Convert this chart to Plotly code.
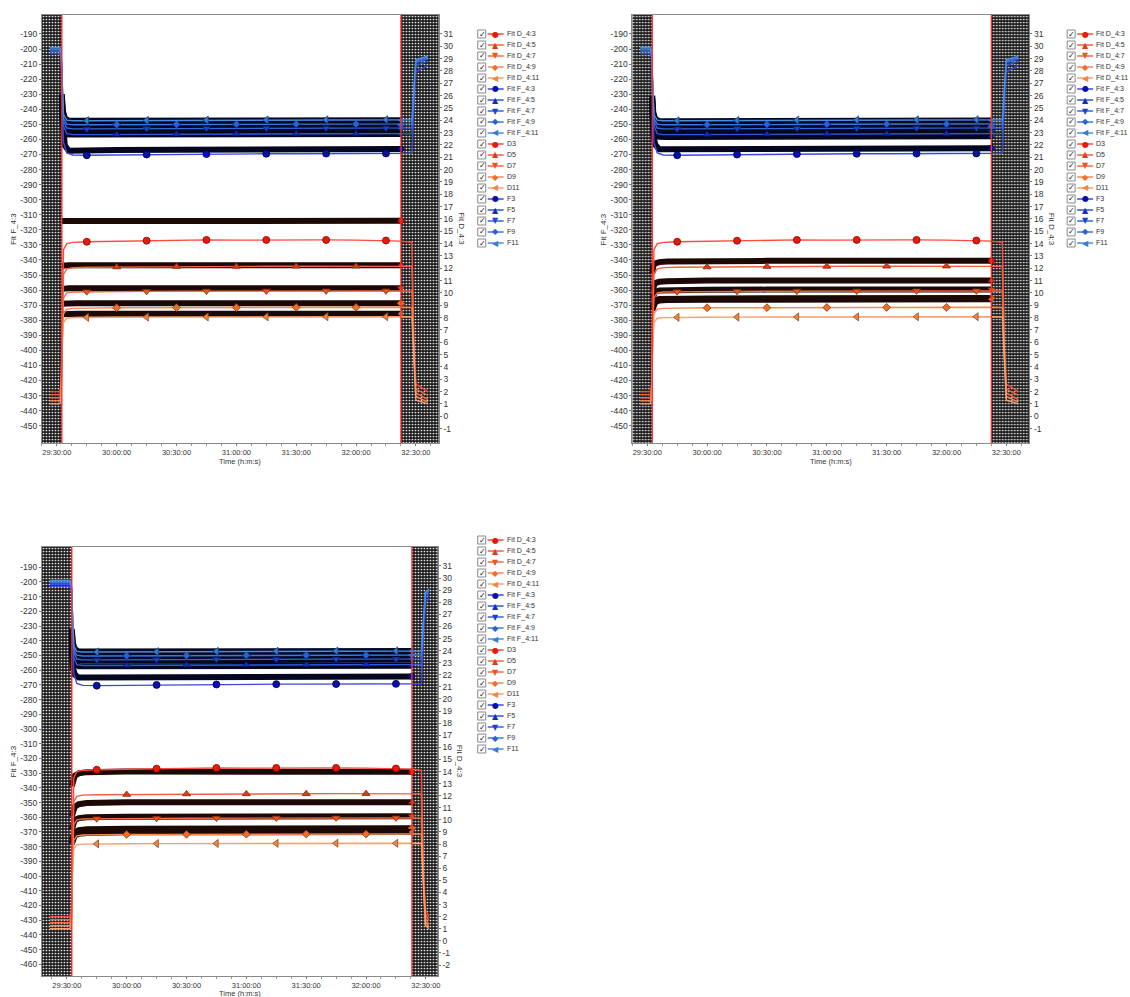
import plotly.graph_objects as go

W, H = 1130, 997


def tmin(s):
    h, m, sec = (int(v) for v in s.split(":"))
    return h * 60 + m + sec / 60.0


# ---------------- time knots (h:m:s) ----------------
FIT_PLATEAU = ["29:45:00", "30:00:00", "30:15:00", "30:30:00", "30:45:00", "31:00:00",
               "31:15:00", "31:30:00", "31:45:00", "32:00:00", "32:15:00"]
FIT_TIMES_A = (["29:26:30", "29:31:30", "29:32:10", "29:32:40", "29:33:20", "29:35:00", "29:38:00"]
               + FIT_PLATEAU + ["32:22:30", "32:28:00", "32:29:00", "32:30:00", "32:36:00"])
FIT_TIMES_B = (["29:21:30", "29:31:30", "29:32:20", "29:32:50", "29:33:30", "29:35:00", "29:38:00"]
               + FIT_PLATEAU + ["32:23:00", "32:27:45", "32:28:45", "32:29:45", "32:31:30"])
DATA_TIMES_A = ["29:32:30", "29:33:00", "29:34:00", "29:36:00", "29:40:00", "30:00:00", "30:30:00",
                "31:00:00", "31:30:00", "32:00:00", "32:22:30"]
DATA_TIMES_B = ["29:32:30", "29:33:00", "29:34:00", "29:36:00", "29:40:00", "30:00:00", "30:30:00",
                "31:00:00", "31:30:00", "32:00:00", "32:23:00"]
VALID_WINDOW_A = ["29:32:30", "32:22:30"]
VALID_WINDOW_B = ["29:32:30", "32:23:00"]
X_TICK_LABELS = ["29:30:00", "30:00:00", "30:30:00", "31:00:00", "31:30:00", "32:00:00", "32:30:00"]

# ---------------- fitted curves (Fit D on right axis, Fit F on left axis) ----------------
fit_d_4_3 = [2.0, 2.0, 2.6, 9.0, 13.5, 14.0, 14.1, 14.15, 14.2, 14.24, 14.3, 14.3, 14.28, 14.3, 14.32, 14.3, 14.28, 14.25, 14.2, 14.1, 6.0, 2.6, 2.0]
fit_d_4_5 = [1.75, 1.75, 2.2, 8.0, 11.5, 11.95, 12.05, 12.08, 12.1, 12.12, 12.14, 12.15, 12.15, 12.16, 12.16, 12.17, 12.17, 12.18, 12.18, 12.15, 5.5, 2.2, 1.7]
fit_d_4_7 = [1.5, 1.5, 1.9, 7.0, 9.6, 10.0, 10.08, 10.1, 10.12, 10.13, 10.14, 10.15, 10.15, 10.16, 10.16, 10.17, 10.17, 10.17, 10.17, 10.15, 5.0, 1.9, 1.35]
fit_d_4_9 = [1.25, 1.25, 1.6, 6.0, 8.3, 8.68, 8.75, 8.78, 8.8, 8.8, 8.81, 8.82, 8.82, 8.82, 8.83, 8.83, 8.83, 8.84, 8.84, 8.82, 4.6, 1.6, 1.15]
fit_d_4_11 = [1.0, 1.0, 1.4, 5.5, 7.6, 7.95, 8.0, 8.02, 8.03, 8.04, 8.05, 8.05, 8.06, 8.06, 8.06, 8.07, 8.07, 8.07, 8.07, 8.05, 4.2, 1.3, 1.0]

fit_f_4_3 = [-203.0, -203.0, -206.0, -238.0, -262.0, -269.0, -270.3, -270.5, -270.3, -270.0, -269.8, -269.7, -269.6, -269.5, -269.5, -269.4, -269.4, -269.3, -269.3, -269.2, -238.0, -215.0, -211.0]
fit_f_4_5 = [-201.5, -201.5, -205.0, -232.0, -251.0, -256.2, -256.8, -256.8, -256.7, -256.6, -256.5, -256.5, -256.4, -256.4, -256.3, -256.3, -256.2, -256.2, -256.2, -256.1, -232.0, -211.0, -208.0]
fit_f_4_7 = [-200.5, -200.5, -204.0, -230.0, -248.0, -252.4, -253.0, -253.0, -252.9, -252.8, -252.7, -252.6, -252.6, -252.5, -252.5, -252.4, -252.4, -252.4, -252.4, -252.3, -230.0, -209.0, -206.5]
fit_f_4_9 = [-200.0, -200.0, -203.5, -228.0, -246.0, -249.8, -250.3, -250.3, -250.2, -250.1, -250.0, -250.0, -249.9, -249.9, -249.8, -249.8, -249.8, -249.7, -249.7, -249.7, -228.0, -208.0, -205.5]
fit_f_4_11 = [-199.0, -199.0, -203.0, -226.0, -243.5, -247.2, -247.6, -247.6, -247.5, -247.4, -247.3, -247.2, -247.1, -247.1, -247.0, -247.0, -246.9, -246.9, -246.9, -246.9, -226.0, -207.0, -204.8]

# ---------------- measured data, panel 1 ----------------
p1_d3 = [15.83, 15.83, 15.84, 15.84, 15.84, 15.85, 15.85, 15.85, 15.85, 15.85, 15.85]
p1_d5 = [12.2, 12.22, 12.23, 12.24, 12.24, 12.25, 12.25, 12.25, 12.25, 12.25, 12.25]
p1_d7 = [10.33, 10.35, 10.36, 10.37, 10.37, 10.38, 10.38, 10.38, 10.38, 10.38, 10.38]
p1_d9 = [9.12, 9.14, 9.15, 9.15, 9.16, 9.16, 9.16, 9.16, 9.16, 9.16, 9.16]
p1_d11 = [8.27, 8.29, 8.3, 8.3, 8.31, 8.31, 8.31, 8.31, 8.31, 8.31, 8.31]
p1_f3 = [-240.0, -255.0, -264.0, -267.5, -267.3, -267.0, -266.8, -266.6, -266.5, -266.4, -266.3]
p1_f5 = [-236.0, -250.0, -255.0, -256.8, -256.8, -256.7, -256.6, -256.5, -256.5, -256.4, -256.4]
p1_f7 = [-234.0, -247.0, -252.0, -253.6, -253.6, -253.5, -253.5, -253.4, -253.4, -253.3, -253.3]
p1_f9 = [-232.0, -244.0, -249.0, -250.6, -250.6, -250.5, -250.5, -250.4, -250.4, -250.3, -250.3]
p1_f11 = [-230.0, -241.0, -246.0, -247.6, -247.6, -247.5, -247.5, -247.4, -247.4, -247.3, -247.3]

# ---------------- measured data, panel 2 ----------------
p2_d3 = [11.6, 12.2, 12.4, 12.5, 12.55, 12.6, 12.6, 12.6, 12.6, 12.6, 12.6]
p2_d5 = [10.2, 10.6, 10.8, 10.9, 10.95, 11.0, 11.0, 11.0, 11.0, 11.0, 11.0]
p2_d7 = [9.5, 9.9, 10.1, 10.2, 10.22, 10.25, 10.27, 10.27, 10.28, 10.28, 10.28]
p2_d9 = [8.8, 9.2, 9.4, 9.5, 9.52, 9.55, 9.56, 9.57, 9.57, 9.58, 9.58]
p2_d11 = [8.6, 9.0, 9.25, 9.38, 9.42, 9.45, 9.46, 9.47, 9.47, 9.48, 9.48]
p2_f3 = [-240.0, -256.0, -263.5, -266.5, -266.5, -266.3, -266.1, -266.0, -265.9, -265.8, -265.8]
p2_f5 = [-237.0, -251.0, -256.5, -258.3, -258.4, -258.3, -258.2, -258.1, -258.0, -258.0, -257.9]
p2_f7 = [-235.0, -248.0, -253.5, -255.3, -255.4, -255.3, -255.2, -255.1, -255.0, -255.0, -254.9]
p2_f9 = [-233.0, -245.0, -250.0, -251.8, -251.9, -251.8, -251.7, -251.6, -251.5, -251.5, -251.4]
p2_f11 = [-231.0, -242.0, -246.3, -247.8, -247.9, -247.8, -247.7, -247.6, -247.5, -247.5, -247.4]

# ---------------- measured data, panel 3 ----------------
p3_d3 = [12.8, 13.3, 13.65, 13.85, 13.95, 14.0, 14.0, 14.0, 14.0, 14.0, 13.98]
p3_d5 = [10.3, 10.8, 11.1, 11.3, 11.4, 11.45, 11.45, 11.46, 11.46, 11.46, 11.46]
p3_d7 = [9.2, 9.7, 10.0, 10.15, 10.22, 10.27, 10.28, 10.29, 10.29, 10.3, 10.3]
p3_d9 = [8.3, 8.7, 9.0, 9.15, 9.22, 9.27, 9.28, 9.29, 9.29, 9.3, 9.3]
p3_d11 = [8.0, 8.4, 8.7, 8.85, 8.92, 8.97, 8.98, 8.99, 9.0, 9.0, 9.0]
p3_f3 = [-245.0, -258.0, -263.0, -265.0, -265.0, -264.8, -264.6, -264.5, -264.4, -264.3, -264.2]
p3_f5 = [-238.0, -250.0, -255.5, -257.3, -257.3, -257.2, -257.1, -257.0, -257.0, -256.9, -256.9]
p3_f7 = [-236.0, -247.0, -251.5, -253.3, -253.3, -253.2, -253.1, -253.0, -253.0, -252.9, -252.9]
p3_f9 = [-234.0, -244.0, -248.2, -250.0, -250.0, -249.9, -249.8, -249.7, -249.7, -249.6, -249.6]
p3_f11 = [-232.0, -241.5, -245.6, -247.3, -247.3, -247.2, -247.1, -247.0, -247.0, -246.9, -246.9]

LEGEND_NAMES = ["Fit D_4:3", "Fit D_4:5", "Fit D_4:7", "Fit D_4:9", "Fit D_4:11",
                "Fit F_4:3", "Fit F_4:5", "Fit F_4:7", "Fit F_4:9", "Fit F_4:11",
                "D3", "D5", "D7", "D9", "D11", "F3", "F5", "F7", "F9", "F11"]

# ---------------- styles ----------------
SYMBOLS = ["circle", "triangle-up", "triangle-down", "diamond", "triangle-left"]
GLYPHS = ["●", "▲", "▼", "◆", "◀"]
MSIZE = [7, 7, 7, 6, 7]
D_LINE = ["#ff4a3a", "#f2603f", "#f36a45", "#f58a55", "#f7a070"]
D_MARK = ["#e61a0a", "#d8401c", "#ea5522", "#ee6e2c", "#f08646"]
D_EDGE = ["#900000", "#8a2000", "#902a00", "#903800", "#904a20"]
F_LINE = ["#3a48e0", "#2f58dc", "#3068de", "#3a7ade", "#4a8ede"]
F_MARK = ["#0a10a8", "#1a2cb4", "#1f42c6", "#2a62d0", "#3a7ccc"]
F_EDGE = ["#000050", "#001060", "#002070", "#003080", "#10408a"]
BAND_D = "#1c0804"
BAND_F = "#040720"
FONT = "Liberation Sans"
TXT = "#333333"

FITS_D = [fit_d_4_3, fit_d_4_5, fit_d_4_7, fit_d_4_9, fit_d_4_11]
FITS_F = [fit_f_4_3, fit_f_4_5, fit_f_4_7, fit_f_4_9, fit_f_4_11]

PANELS = [
    dict(fit_t=FIT_TIMES_A, dat_t=DATA_TIMES_A, window=VALID_WINDOW_A,
         data_d=[p1_d3, p1_d5, p1_d7, p1_d9, p1_d11], data_f=[p1_f3, p1_f5, p1_f7, p1_f9, p1_f11],
         box=(42, 15, 440, 443), xr=(1762.5, 1961.5), yl=(-461.5, -177.4), yr=(-2.17, 32.54),
         lticks=list(range(-450, -189, 10)), rticks=list(range(-1, 32)), legend=(483, 34), tdy=18.5),
    dict(fit_t=FIT_TIMES_A, dat_t=DATA_TIMES_A, window=VALID_WINDOW_A,
         data_d=[p2_d3, p2_d5, p2_d7, p2_d9, p2_d11], data_f=[p2_f3, p2_f5, p2_f7, p2_f9, p2_f11],
         box=(634, 15, 1032, 443), xr=(1762.5, 1961.5), yl=(-461.5, -177.4), yr=(-2.17, 32.54),
         lticks=list(range(-450, -189, 10)), rticks=list(range(-1, 32)), legend=(1074, 34), tdy=18.5),
    dict(fit_t=FIT_TIMES_B, dat_t=DATA_TIMES_B, window=VALID_WINDOW_B,
         data_d=[p3_d3, p3_d5, p3_d7, p3_d9, p3_d11], data_f=[p3_f3, p3_f5, p3_f7, p3_f9, p3_f11],
         box=(42, 547, 439, 976), xr=(1757.5, 1956.0), yl=(-468.0, -176.2), yr=(-2.91, 32.57),
         lticks=list(range(-460, -189, 10)), rticks=list(range(-2, 32)), legend=(483, 540), tdy=17.5),
]


def PX(x):
    return x / W


def PY(y):
    return 1 - y / H


def label(text, x, y, size=8, color=TXT, family=FONT, xanchor="center", angle=0):
    return dict(text=text, x=PX(x), y=PY(y), xref="paper", yref="paper", showarrow=False,
                xanchor=xanchor, yanchor="middle", textangle=angle,
                font=dict(size=size, color=color, family=family))


fig = go.Figure()
layout = dict(width=W, height=H, margin=dict(l=0, r=0, t=0, b=0), showlegend=False,
              paper_bgcolor="white", plot_bgcolor="white",
              font=dict(family=FONT, size=8, color=TXT))
shapes, annotations = [], []
PLATEAU_START = 7

for p, P in enumerate(PANELS):
    xn = p + 1
    yl_n, yr_n = 2 * p + 1, 2 * p + 2
    xref = "x" if xn == 1 else f"x{xn}"
    ylref = "y" if yl_n == 1 else f"y{yl_n}"
    yrref = f"y{yr_n}"
    x0, y0, x1, y1 = P["box"]
    ft = [tmin(s) for s in P["fit_t"]]
    dt = [tmin(s) for s in P["dat_t"]]
    w0, w1 = tmin(P["window"][0]), tmin(P["window"][1])

    # hatched excluded periods
    for a, b in ((P["xr"][0], w0), (w1, P["xr"][1])):
        lo, hi = P["yl"]
        fig.add_trace(go.Scatter(
            x=[a, b, b, a, a], y=[lo, lo, hi, hi, lo], xaxis=xref, yaxis=ylref,
            mode="lines", fill="toself", line=dict(width=0, color="rgba(0,0,0,0)"),
            fillpattern=dict(shape=".", fgcolor="#f4f4f4", bgcolor="#1c1c1c", size=3, solidity=0.25,
                             fillmode="replace"),
            hoverinfo="skip"))

    for group, fits, datas, lc, mc, ec, band, yref in (
            ("F", FITS_F, P["data_f"], F_LINE, F_MARK, F_EDGE, BAND_F, ylref),
            ("D", FITS_D, P["data_d"], D_LINE, D_MARK, D_EDGE, BAND_D, yrref)):
        # measured data: dense dark bands
        for j, vals in enumerate(datas):
            fig.add_trace(go.Scatter(x=dt, y=vals, xaxis=xref, yaxis=yref, mode="lines",
                                     line=dict(color=band, width=6), hoverinfo="skip"))
            fig.add_trace(go.Scatter(x=[dt[-1]], y=[vals[-1]], xaxis=xref, yaxis=yref, mode="markers",
                                     marker=dict(symbol=SYMBOLS[j], size=6, color=mc[j],
                                                 line=dict(color=ec[j], width=0.8)),
                                     hoverinfo="skip"))
        # fitted curves with sparse markers
        for j, vals in enumerate(fits):
            fig.add_trace(go.Scatter(x=ft, y=vals, xaxis=xref, yaxis=yref, mode="lines",
                                     line=dict(color=lc[j], width=1.4), hoverinfo="skip"))
            idx = [k for k in range(PLATEAU_START, PLATEAU_START + len(FIT_PLATEAU))
                   if (k - PLATEAU_START + j) % 2 == 0]
            fig.add_trace(go.Scatter(x=[ft[k] for k in idx], y=[vals[k] for k in idx],
                                     xaxis=xref, yaxis=yref, mode="markers",
                                     marker=dict(symbol=SYMBOLS[j], size=MSIZE[j], color=mc[j],
                                                 line=dict(color=ec[j], width=0.8)),
                                     hoverinfo="skip"))

    # axes
    xkey = "xaxis" if xn == 1 else f"xaxis{xn}"
    ylkey = "yaxis" if yl_n == 1 else f"yaxis{yl_n}"
    yrkey = f"yaxis{yr_n}"
    tickvals = [tmin(s) for s in X_TICK_LABELS]
    minor_vals = [tickvals[0] + 7.5 * k for k in range(-2, 28)]
    layout[xkey] = dict(domain=[PX(x0), PX(x1)], range=list(P["xr"]), anchor=ylref,
                        tickmode="array", tickvals=tickvals, ticktext=X_TICK_LABELS,
                        ticks="outside", ticklen=2, tickcolor="#777", showgrid=False, zeroline=False,
                        showline=True, linecolor="#8a8a8a", linewidth=1, mirror=True,
                        minor=dict(tickmode="array", tickvals=minor_vals, ticks="outside", ticklen=2,
                                   tickcolor="#999"),
                        tickfont=dict(family=FONT, size=7.5, color=TXT))
    layout[ylkey] = dict(domain=[PY(y1), PY(y0)], range=list(P["yl"]), anchor=xref,
                         tickmode="array", tickvals=P["lticks"], ticktext=[str(v) for v in P["lticks"]],
                         ticks="outside", ticklen=2, tickcolor="#777", showgrid=False, zeroline=False,
                         showline=True, linecolor="#8a8a8a",
                         tickfont=dict(family=FONT, size=8.5, color=TXT))
    layout[yrkey] = dict(overlaying=ylref, side="right", anchor=xref, range=list(P["yr"]),
                         tickmode="array", tickvals=P["rticks"], ticktext=[str(v) for v in P["rticks"]],
                         ticks="outside", ticklen=2, tickcolor="#777", showgrid=False, zeroline=False,
                         showline=True, linecolor="#8a8a8a",
                         tickfont=dict(family=FONT, size=8.5, color=TXT))

    # red boundary lines of the valid window
    for xv in (w0, w1):
        shapes.append(dict(type="line", xref=xref, yref=f"{ylref} domain", x0=xv, x1=xv, y0=0, y1=1,
                           line=dict(color="#ff2a2a", width=1.3), layer="above"))

    # axis titles
    cy = (y0 + y1) / 2
    annotations.append(label("Fit F_4:3", x0 - 28, cy, angle=-90))
    annotations.append(label("Fit D_4:3", x1 + 22, cy, angle=90))
    annotations.append(label("Time (h:m:s)", (x0 + x1) / 2, y1 + P["tdy"], size=7.5))

    # legend (checkbox, line + marker, label)
    cx, ry0 = P["legend"]
    for i, name in enumerate(LEGEND_NAMES):
        ry = ry0 + 11 * i
        j = i % 5
        is_d = (i // 5) % 2 == 0
        lcol = D_LINE[j] if is_d else F_LINE[j]
        mcol = D_MARK[j] if is_d else F_MARK[j]
        shapes.append(dict(type="rect", xref="paper", yref="paper", x0=PX(cx - 4), x1=PX(cx + 4),
                           y0=PY(ry + 4), y1=PY(ry - 4), line=dict(color="#8a8a8a", width=1),
                           fillcolor="white"))
        annotations.append(label("✓", cx + 0.5, ry, size=8, color="#111", family="DejaVu Sans"))
        shapes.append(dict(type="line", xref="paper", yref="paper", x0=PX(cx + 6), x1=PX(cx + 22),
                           y0=PY(ry), y1=PY(ry), line=dict(color=lcol, width=1.5)))
        annotations.append(label(GLYPHS[j], cx + 14, ry, size=8, color=mcol, family="DejaVu Sans"))
        annotations.append(label(name, cx + 23, ry, size=7.1, xanchor="left"))

layout["shapes"] = shapes
layout["annotations"] = annotations
fig.update_layout(**layout)
fig.write_html("out.html")
